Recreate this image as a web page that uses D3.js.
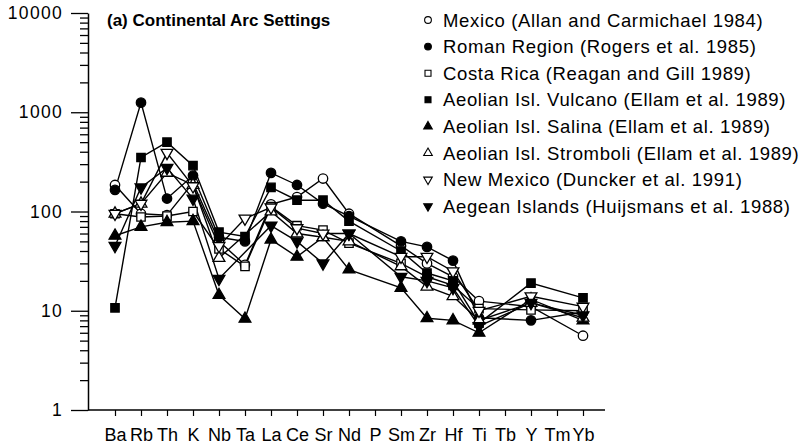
<!DOCTYPE html>
<html><head><meta charset="utf-8">
<script src="https://cdn.jsdelivr.net/npm/d3@7"></script>
<style>
html,body{margin:0;padding:0;background:#fff;}
svg{display:block;font-family:"Liberation Sans",Arial,Helvetica,sans-serif;}
</style></head>
<body><svg id="c" width="809" height="448"></svg>
<script>
const elements = ["Ba","Rb","Th","K","Nb","Ta","La","Ce","Sr","Nd","P","Sm","Zr","Hf","Ti","Tb","Y","Tm","Yb"];
const yTickLabels = ["1","10","100","1000","10000"];
const seriesNames = [
  "Mexico (Allan and Carmichael 1984)",
  "Roman Region (Rogers et al. 1985)",
  "Costa Rica (Reagan and Gill 1989)",
  "Aeolian Isl. Vulcano (Ellam et al. 1989)",
  "Aeolian Isl. Salina (Ellam et al. 1989)",
  "Aeolian Isl. Stromboli (Ellam et al. 1989)",
  "New Mexico (Duncker et al. 1991)",
  "Aegean Islands (Huijsmans et al. 1988)"
];
const mexico    = [185, 95, 92, 195, 50, 29, 118, 140, 215, 95, null, 45, 30, 22, 12.5, null, 11, null, 5.6];
const roman     = [165, 1250, 135, 230, 55, 50, 245, 185, 120, 90, null, 50, 44, 32, 8.5, null, 8, null, 9.7];
const costaRica = [95, 88, 90, 100, 42, 28, 112, 72, 65, 48, null, 30, 22, 18, 10.5, null, 10.2, null, 10];
const vulcano   = [10.7, 350, 500, 290, 62, 56, 175, 130, 130, 80, null, 40, 24, 20, 7.5, null, 19, null, 13.5];
const salina    = [57, 70, 78, 80, 14.4, 8.3, 52, 35, 55, 26, null, 17, 8.4, 8, 6, null, 13, null, 8];
const stromboli = [95, 120, 245, 185, 34, null, 100, 60, 55, 50, null, 28, 17.5, 14, 8, null, 12, null, 8.5];
const newMexico = [95, 120, 390, 180, 45, 85, 110, 68, 60, 60, null, 35, 35, 25, 10, null, 14, null, 11];
const aegean    = [45, 175, 275, 135, 21, null, 72, 50, 30, 60, null, 22, 20, 17, 7, null, 12, null, 9];
const seriesValues = [mexico, roman, costaRica, vulcano, salina, stromboli, newMexico, aegean];
const seriesSymbols = ["circle","circle","square","square","triangle","triangle","triangleDown","triangleDown"];
const seriesFilled = [false,true,false,true,true,false,false,true];

const svg = d3.select("#c");
const x = d3.scalePoint().domain(elements).range([115, 583]);
const y = d3.scaleLog().domain([1, 10000]).range([410, 13]);

// y axis
const majors = [1,10,100,1000,10000];
const minors = [];
for (let d = 1; d < 10000; d *= 10) for (let k = 2; k <= 9; k++) minors.push(d*k);
const yAxisMajor = d3.axisLeft(y).tickValues(majors).tickSize(17).tickSizeOuter(0)
  .tickFormat((d,i) => yTickLabels[i]).tickPadding(8);
const gy = svg.append("g").attr("transform","translate(88,0)").call(yAxisMajor);
gy.selectAll("text").attr("font-size", 17.5).attr("letter-spacing", "1.3px").attr("fill","#000")
  .attr("font-family","'Liberation Sans',Arial,sans-serif");
const yAxisMinor = d3.axisLeft(y).tickValues(minors).tickSize(8).tickFormat("");
const gy2 = svg.append("g").attr("transform","translate(88,0)").call(yAxisMinor);
gy2.select(".domain").remove();
svg.selectAll(".tick line").attr("stroke","#000").attr("stroke-width",1.3);
gy.select(".domain").attr("stroke","#000").attr("stroke-width",1.5);

// x axis
const xAxis = d3.axisBottom(x).tickSize(6).tickPadding(12);
const gx = svg.append("g").attr("transform","translate(0,410)").call(xAxis);
gx.select(".domain").remove();
gx.selectAll(".tick line").attr("stroke","#000").attr("stroke-width",1.2);
gx.selectAll("text").attr("font-size", 18).attr("fill","#000")
  .attr("font-family","'Liberation Sans',Arial,sans-serif");
svg.append("line").attr("x1",88).attr("x2",605).attr("y1",410).attr("y2",410)
  .attr("stroke","#000").attr("stroke-width",1.5);

// title
svg.append("text").attr("x",107).attr("y",26).attr("font-size",17).attr("font-weight","bold")
  .text("(a) Continental Arc Settings");

// lines
const line = d3.line().x(d => x(d.e)).y(d => y(d.v));
seriesValues.forEach((vals) => {
  const pts = elements.map((e,i) => ({e, v: vals[i]})).filter(d => d.v != null);
  svg.append("path").datum(pts).attr("d", line).attr("fill","none")
    .attr("stroke","#000").attr("stroke-width",1.4);
});

function symbolPath(type, size) {
  const map = {circle: d3.symbolCircle, square: d3.symbolSquare, triangle: d3.symbolTriangle, triangleDown: d3.symbolTriangle};
  return d3.symbol().type(map[type]).size(size)();
}
const sizes = {circle: 70, square: 70, triangle: 60, triangleDown: 60};
seriesValues.forEach((vals, si) => {
  const type = seriesSymbols[si];
  const pts = elements.map((e,i) => ({e, v: vals[i]})).filter(d => d.v != null);
  svg.append("g").selectAll("path").data(pts).join("path")
    .attr("d", symbolPath(type, sizes[type]))
    .attr("transform", d => `translate(${x(d.e)},${y(d.v)})` + (type === "triangleDown" ? " rotate(180)" : ""))
    .attr("fill", seriesFilled[si] ? "#000" : "#fff")
    .attr("stroke", "#000").attr("stroke-width", 1.3);
});

// legend
const lg = svg.append("g");
seriesNames.forEach((name, si) => {
  const yy = 20 + si * 26.6;
  const type = seriesSymbols[si];
  lg.append("path").attr("d", symbolPath(type, type.startsWith("tri") ? 32 : 36))
    .attr("transform", `translate(428,${yy})` + (type === "triangleDown" ? " rotate(180)" : ""))
    .attr("fill", seriesFilled[si] ? "#000" : "#fff").attr("stroke","#000").attr("stroke-width",1.1);
  lg.append("text").attr("x", 443).attr("y", yy + 6.5).attr("font-size", 18.5)
    .attr("letter-spacing","0.65px").text(name);
});
</script></body></html>
